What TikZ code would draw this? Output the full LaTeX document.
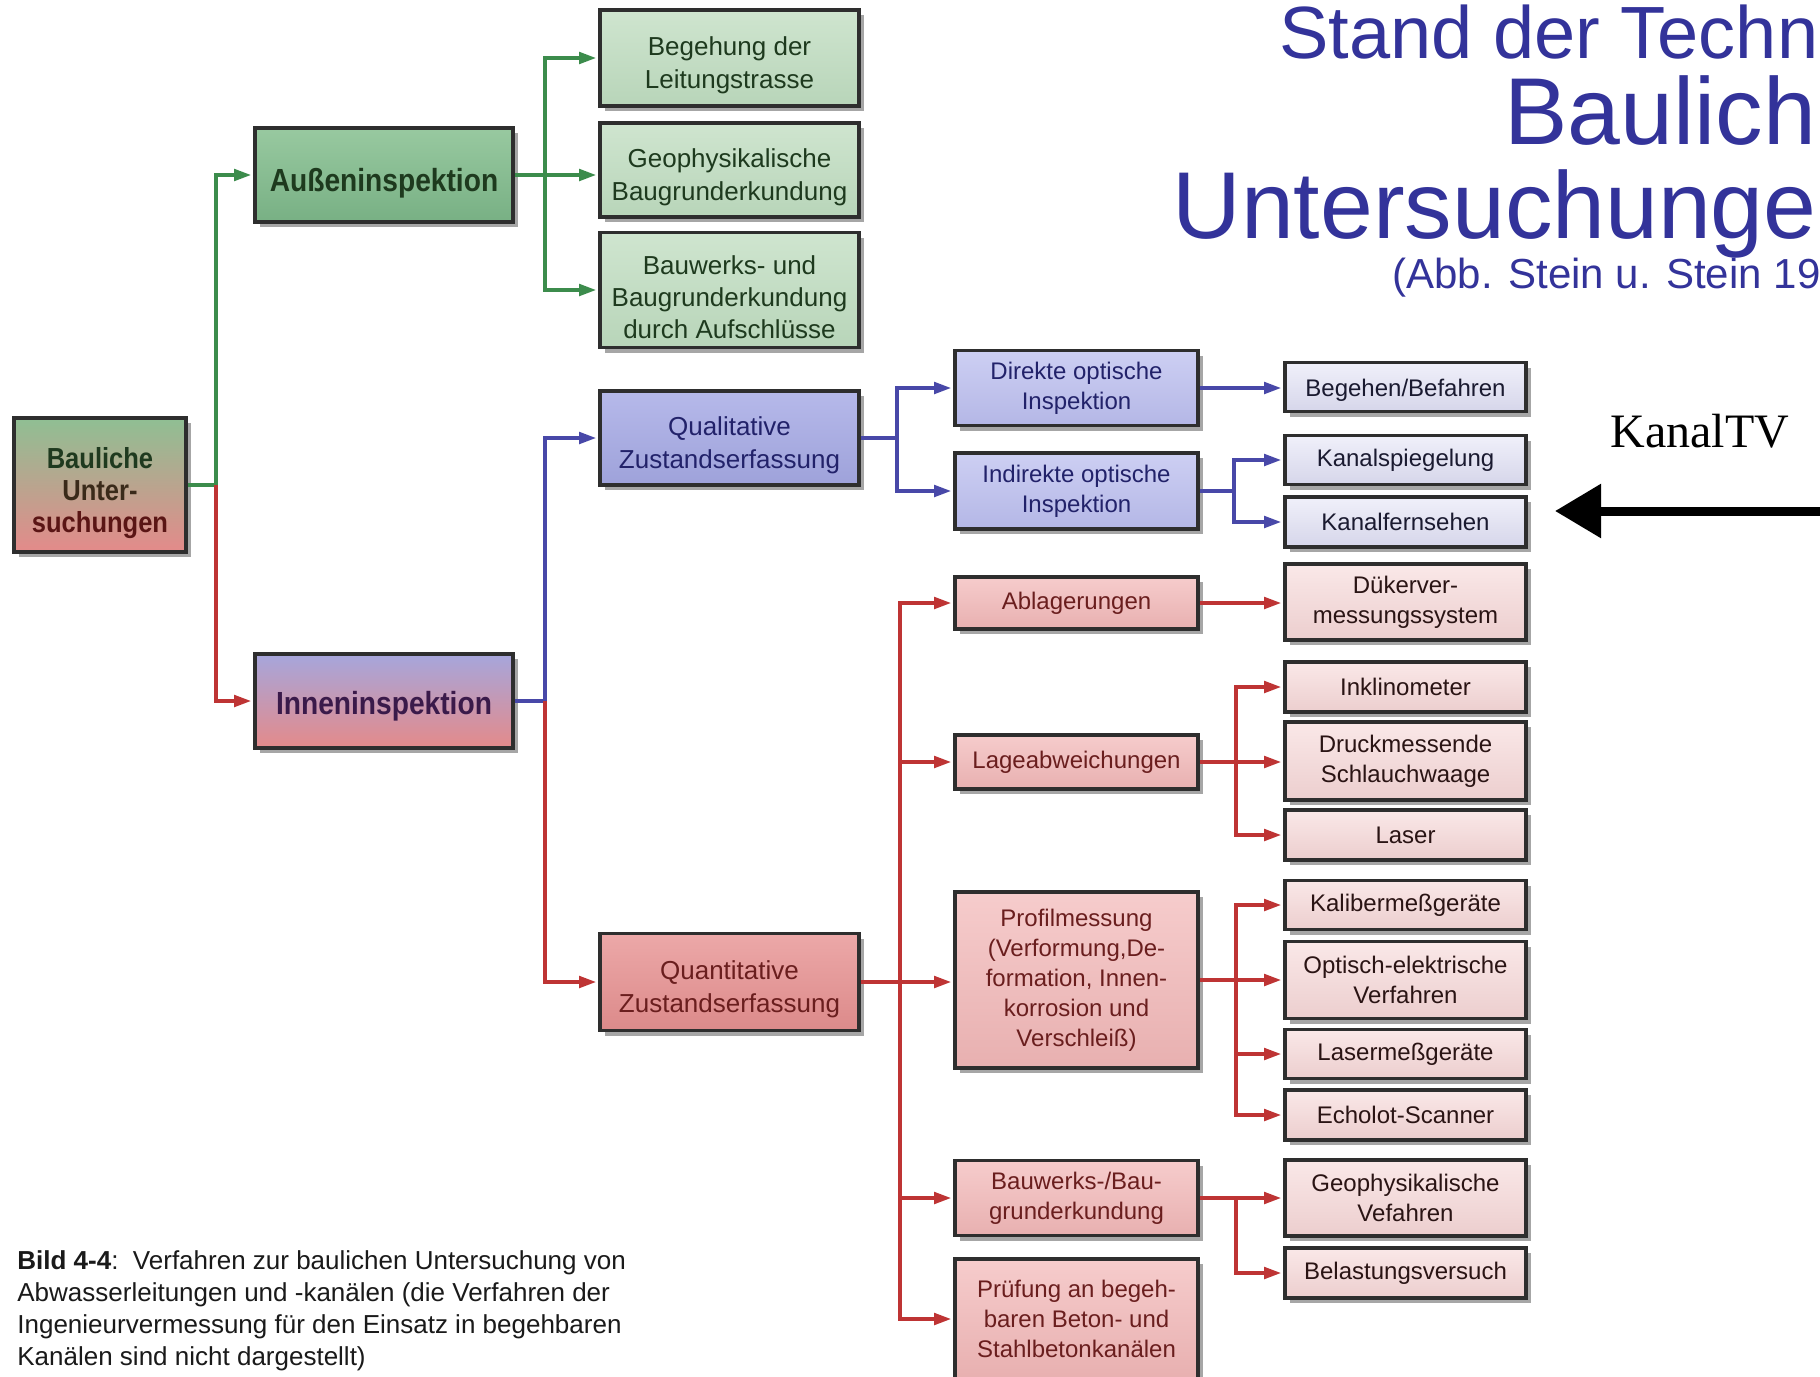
\documentclass[tikz,border=0pt]{standalone}
\usepackage{fontspec}
\setmainfont{Liberation Sans}
\newfontfamily\hdfont{Liberation Sans}[FakeStretch=0.88]
\newfontfamily\serifTV{Liberation Serif}
\usetikzlibrary{arrows.meta,shadows}
\newcommand\myupA{\rule{0pt}{16.6pt}}
\newcommand\myupB{\rule{0pt}{18.5pt}}
\definecolor{bord}{HTML}{2E2E2E}
\definecolor{titleblue}{HTML}{33339A}
\definecolor{garr}{HTML}{3C8C4C}
\definecolor{barr}{HTML}{4848A8}
\definecolor{rarr}{HTML}{BE3434}
\definecolor{gtxt}{HTML}{1E3A1E}
\definecolor{btxt}{HTML}{22226A}
\definecolor{rtxt}{HTML}{6A1E1E}
\definecolor{gAt}{HTML}{98C9A0}\definecolor{gAb}{HTML}{78B084}
\definecolor{gBt}{HTML}{CFE5CF}\definecolor{gBb}{HTML}{B8D5B9}
\definecolor{bAt}{HTML}{B6B9EA}\definecolor{bAb}{HTML}{9EA2DA}
\definecolor{bBt}{HTML}{CDCFF3}\definecolor{bBb}{HTML}{B4B7E6}
\definecolor{bCt}{HTML}{F0F0FA}\definecolor{bCb}{HTML}{D6D6EA}
\definecolor{rAt}{HTML}{ECA8A8}\definecolor{rAb}{HTML}{DC8A8A}
\definecolor{rBt}{HTML}{F6CCCC}\definecolor{rBb}{HTML}{E8B0B0}
\definecolor{rCt}{HTML}{FAE8E8}\definecolor{rCb}{HTML}{ECCECE}
\definecolor{bauT}{HTML}{8FBF93}\definecolor{pinkB}{HTML}{E48A8A}
\definecolor{innT}{HTML}{A6A6DC}
\definecolor{innTxt}{HTML}{3A1A4A}
\definecolor{bCtxt}{HTML}{1A1A30}
\definecolor{rCtxt}{HTML}{2A1414}
\definecolor{l1}{HTML}{1F3A1F}\definecolor{l2}{HTML}{3A2A1A}\definecolor{l3}{HTML}{5A1515}
\definecolor{captxt}{HTML}{1A1A1A}
\begin{document}
\begin{tikzpicture}[x=0.5pt,y=-0.5pt,
  box/.style={draw=bord, line width=1.9pt, align=center, inner sep=1pt,
    drop shadow={shadow xshift=2.5pt, shadow yshift=-2.5pt, opacity=0.35, fill=black}},
  hd/.style={box, minimum width=129pt, minimum height=47pt, font=\hdfont\bfseries\fontsize{16}{18}\selectfont},
  c3/.style={box, minimum width=129.5pt, font=\fontsize{13}{16.2}\selectfont},
  c4/.style={box, minimum width=121.5pt, font=\fontsize{12}{15}\selectfont},
  c5/.style={box, minimum width=120.5pt, font=\fontsize{12}{15}\selectfont},
  gA/.style={top color=gAt, bottom color=gAb, text=gtxt},
  gB/.style={top color=gBt, bottom color=gBb, text=gtxt},
  bA/.style={top color=bAt, bottom color=bAb, text=btxt},
  bB/.style={top color=bBt, bottom color=bBb, text=btxt},
  bC/.style={top color=bCt, bottom color=bCb, text=bCtxt},
  rA/.style={top color=rAt, bottom color=rAb, text=rtxt},
  rB/.style={top color=rBt, bottom color=rBb, text=rtxt},
  rC/.style={top color=rCt, bottom color=rCb, text=rCtxt},
  conn/.style={line width=1.6pt, -{Triangle[length=8.5pt,width=5.8pt]}, shorten >=1pt},
  gline/.style={conn, draw=garr},
  bline/.style={conn, draw=barr},
  rline/.style={conn, draw=rarr}
]
\useasboundingbox (0,0) rectangle (1820,1376);
\clip (0,0) rectangle (1820,1376);
\fill[white] (0,0) rectangle (1820,1376);

% title
\node[anchor=base west, inner sep=0, font=\fontsize{37}{37}\selectfont, text=titleblue] (t1) at (1279,58) {Stand der Techn};
\node[anchor=base west, inner sep=0, font=\fontsize{47.5}{48}\selectfont, text=titleblue] (t2) at (1504,144) {Baulich};
\node[anchor=base west, inner sep=0, font=\fontsize{47.5}{48}\selectfont, text=titleblue] (t3) at (1172,238) {Untersuchunge};
\node[anchor=base west, inner sep=0, font=\fontsize{21}{22}\selectfont, text=titleblue] (t4) at (1392,288) {(Abb. Stein u. Stein 19};

% column 1
\node[box, minimum width=86pt, minimum height=67pt, top color=bauT, bottom color=pinkB,
  font=\hdfont\bfseries\fontsize{14.5}{16}\selectfont] (bau) at (100,485)
  {\myupB\textcolor{l1}{Bauliche}\\\textcolor{l2}{Unter-}\\\textcolor{l3}{suchungen}};

% column 2
\node[hd, gA] (aus) at (384,175) {\rule{0pt}{20pt}Außeninspektion};
\node[hd, top color=innT, bottom color=pinkB, text=innTxt] (inn) at (384,701) {\rule{0pt}{17pt}Inneninspektion};

% column 3
\node[c3, gB, minimum height=48pt] (beg) at (729.5,58) {\myupA Begehung der\\Leitungstrasse};
\node[c3, gB, minimum height=47pt] (geo) at (729.5,170) {\myupA Geophysikalische\\Baugrunderkundung};
\node[c3, gB, minimum height=57.5pt] (bwk) at (729.5,290) {\myupA Bauwerks- und\\Baugrunderkundung\\durch Aufschlüsse};
\node[c3, bA, minimum height=47pt] (qual) at (729.5,438) {\myupA Qualitative\\Zustandserfassung};
\node[c3, rA, minimum height=48.5pt] (quan) at (729.5,982) {\myupA Quantitative\\Zustandserfassung};

% column 4
\node[c4, bB, minimum height=37.5pt] (dir) at (1076.5,388) {Direkte optische\\Inspektion};
\node[c4, bB, minimum height=38pt] (ind) at (1076.5,491) {Indirekte optische\\Inspektion};
\node[c4, rB, minimum height=26pt] (abl) at (1076.5,603) {Ablagerungen};
\node[c4, rB, minimum height=27pt] (lage) at (1076.5,762) {Lageabweichungen};
\node[c4, rB, minimum height=88pt] (prof) at (1076.5,980) {Profilmessung\\(Verformung,De-\\formation, Innen-\\korrosion und\\Verschleiß)};
\node[c4, rB, minimum height=37.5pt] (bau2) at (1076.5,1198) {Bauwerks-/Bau-\\grunderkundung};
\node[c4, rB, minimum height=60pt] (pruf) at (1076.5,1319) {Prüfung an begeh-\\baren Beton- und\\Stahlbetonkanälen};

% column 5
\node[c5, bC, minimum height=24.5pt] (beg2) at (1405.5,387) {\rule{0pt}{12pt}Begehen/Befahren};
\node[c5, bC, minimum height=24.5pt] (ksp) at (1405.5,460) {Kanalspiegelung};
\node[c5, bC, minimum height=25pt] (kfs) at (1405.5,522) {Kanalfernsehen};
\node[c5, rC, minimum height=38pt] (duk) at (1405.5,602) {Dükerver-\\messungssystem};
\node[c5, rC, minimum height=25pt] (inkl) at (1405.5,687) {Inklinometer};
\node[c5, rC, minimum height=39pt] (druck) at (1405.5,761) {Druckmessende\\Schlauchwaage};
\node[c5, rC, minimum height=25pt] (laser) at (1405.5,835) {Laser};
\node[c5, rC, minimum height=24.5pt] (kal) at (1405.5,905) {Kalibermeßgeräte};
\node[c5, rC, minimum height=38.5pt] (opt) at (1405.5,980) {Optisch-elektrische\\Verfahren};
\node[c5, rC, minimum height=24.5pt] (lmg) at (1405.5,1054) {Lasermeßgeräte};
\node[c5, rC, minimum height=25pt] (echo) at (1405.5,1115) {Echolot-Scanner};
\node[c5, rC, minimum height=38pt] (gv) at (1405.5,1198) {Geophysikalische\\Vefahren};
\node[c5, rC, minimum height=25pt] (bel) at (1405.5,1273) {Belastungsversuch};

% connectors
\coordinate (jr) at (216,485);
\draw[gline] (bau.east) -- (jr) |- (aus.west);
\draw[rline] (jr) |- (inn.west);

\coordinate (ja) at (545,175);
\draw[gline] (aus.east) -- (ja) |- (beg.west);
\draw[gline] (ja) -- (ja -| geo.west);
\draw[gline] (ja) |- (bwk.west);

\coordinate (ji) at (545,701);
\draw[bline] (inn.east) -- (ji) |- (qual.west);
\draw[rline] (ji) |- (quan.west);

\coordinate (jq) at (897,438);
\draw[bline] (qual.east) -- (jq) |- (dir.west);
\draw[bline] (jq) |- (ind.west);
\draw[bline] (dir.east) -- (dir.east -| beg2.west);

\coordinate (jind) at (1234,491);
\draw[bline] (ind.east) -- (jind) |- (ksp.west);
\draw[bline] (jind) |- (kfs.west);

\coordinate (jqn) at (900,982);
\draw[rline] (quan.east) -- (jqn) |- (abl.west);
\draw[rline] (jqn) |- (lage.west);
\draw[rline] (jqn) -- (jqn -| prof.west);
\draw[rline] (jqn) |- (bau2.west);
\draw[rline] (jqn) |- (pruf.west);

\draw[rline] (abl.east) -- (abl.east -| duk.west);

\coordinate (jl) at (1236,762);
\draw[rline] (lage.east) -- (jl) |- (inkl.west);
\draw[rline] (jl) -- (jl -| druck.west);
\draw[rline] (jl) |- (laser.west);

\coordinate (jp) at (1236,980);
\draw[rline] (prof.east) -- (jp) |- (kal.west);
\draw[rline] (jp) -- (jp -| opt.west);
\draw[rline] (jp) |- (lmg.west);
\draw[rline] (jp) |- (echo.west);

\coordinate (jb) at (1236,1198);
\draw[rline] (bau2.east) -- (jb) |- (gv.west);
\draw[rline] (jb) |- (bel.west);

% KanalTV annotation
\node[anchor=base west, inner sep=0, font=\serifTV\fontsize{24}{24}\selectfont] (tv) at (1610,447) {KanalTV};
\coordinate (tvtail) at (1820,511);
\coordinate (tvtip) at (1555,511);
\draw[line width=4.5pt, -{Triangle[length=23pt,width=26pt]}] (tvtail) -- (tvtip);

% caption
\node[anchor=north west, inner sep=0, align=left, text=captxt, font=\fontsize{13}{16}\selectfont] (cap) at (17,1250)
  {\textbf{Bild 4-4}:\ \ Verfahren zur baulichen Untersuchung von\\
   Abwasserleitungen und -kanälen (die Verfahren der\\
   Ingenieurvermessung für den Einsatz in begehbaren\\
   Kanälen sind nicht dargestellt)};
\end{tikzpicture}
\end{document}
